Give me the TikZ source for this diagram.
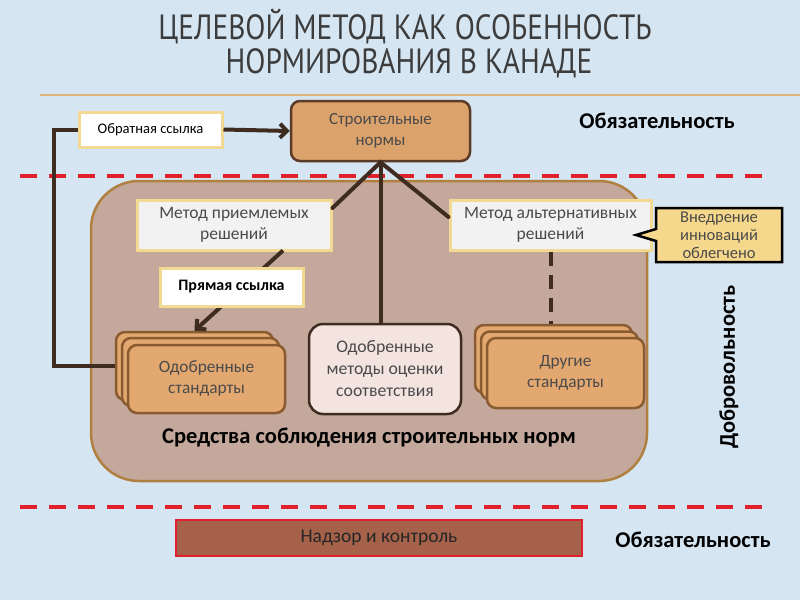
\documentclass[tikz,border=0pt]{standalone}
\usepackage{fontspec}
\setmainfont{Carlito}
\newfontfamily\titlefont{PT Sans}
\usetikzlibrary{arrows.meta,shapes.callouts,calc}
\definecolor{bg}{HTML}{D5E5F2}
\definecolor{tan}{HTML}{DBA26C}
\definecolor{tanline}{HTML}{5C3A28}
\definecolor{panel}{HTML}{C4A89C}
\definecolor{panelline}{HTML}{B08040}
\definecolor{yelline}{HTML}{F3DA94}
\definecolor{stdfill}{HTML}{E2A870}
\definecolor{stdline}{HTML}{8A5A30}
\definecolor{pinkfill}{HTML}{F3E4E0}
\definecolor{conn}{HTML}{3F2C20}
\definecolor{callfill}{HTML}{F6D88C}
\definecolor{redd}{HTML}{E0202A}
\definecolor{nadzor}{HTML}{A5614A}
\definecolor{txt}{HTML}{4A4A4A}
\definecolor{titlec}{HTML}{3C3C3C}
\definecolor{rule}{HTML}{DDB77A}
\begin{document}
\begin{tikzpicture}[x=1pt,y=-1pt,
  conline/.style={draw=conn,line width=4pt},
  reddash/.style={draw=redd,line width=4pt,dash pattern=on 17pt off 12pt},
  sbox/.style={draw=yelline,line width=3pt,fill=white,inner sep=0pt,align=center,text=black},
  mbox/.style={draw=yelline,line width=3pt,fill=black!5,inner sep=0pt,align=center,text=txt,font=\fontsize{17.5}{21}\selectfont},
  stdbox/.style={draw=stdline,line width=2.5pt,fill=stdfill,rounded corners=9pt,minimum width=157pt,minimum height=68pt,inner sep=0pt,align=center,text=txt,font=\fontsize{17.3}{21}\selectfont},
  lbl/.style={font=\bfseries\fontsize{22.5}{26}\selectfont,text=black,inner sep=0pt},
  ttl/.style={text=titlec,inner sep=0pt,anchor=base}
]
\useasboundingbox (0,0) rectangle (800,600);
\fill[bg] (0,0) rectangle (800,600);
% title
\node[ttl] (t1) at (405,39) {\scalebox{0.84}[1]{\titlefont\fontsize{35}{35}\selectfont ЦЕЛЕВОЙ МЕТОД КАК ОСОБЕННОСТЬ}};
\node[ttl] (t2) at (409,73) {\scalebox{0.84}[1]{\titlefont\fontsize{35}{35}\selectfont НОРМИРОВАНИЯ В КАНАДЕ}};
\draw[rule,line width=1.5pt] (40,95) -- (800,95);
% red dashed separators
\draw[reddash] (20,176) -- (772,176);
\draw[reddash] (20,507) -- (772,507);
% panel
\draw[panelline,line width=2.5pt,fill=panel,rounded corners=48pt] (91,181) rectangle (647,481);
% top node
\node[draw=tanline,line width=2.5pt,fill=tan,rounded corners=9pt,minimum width=179pt,minimum height=60pt,inner sep=0pt,align=center,text=txt,font=\fontsize{17}{21}\selectfont] (sn) at (380.5,131) {Строительные\\нормы};
\node[sbox,minimum width=143pt,minimum height=35pt,font=\fontsize{14.6}{17}\selectfont] (obr) at (150.5,129.5) {Обратная ссылка};
% method boxes
\node[mbox,minimum width=194pt,minimum height=50pt] (mpr) at (234,225) {Метод приемлемых\\решений};
\node[mbox,minimum width=201pt,minimum height=50pt] (mal) at (550.5,225) {Метод альтернативных\\решений};
% standards stacks
\node[stdbox] (osA) at (194.5,366) {};
\node[stdbox] (osB) at (200.5,372) {};
\node[stdbox] (os) at (206.5,379) {Одобренные\\стандарты};
\node[stdbox] (odA) at (553.5,359) {};
\node[stdbox] (odB) at (559.5,365.5) {};
\node[stdbox,minimum height=70pt] (od) at (565.5,373) {Другие\\стандарты};
\node[draw=conn,line width=2.5pt,fill=pinkfill,rounded corners=14pt,minimum width=152pt,minimum height=90pt,inner sep=0pt,align=center,text=txt,font=\fontsize{17.7}{22}\selectfont] (mo) at (385,369) {Одобренные\\методы оценки\\соответствия};
% connectors
\draw[conline,-{Straight Barb[length=7pt,width=14pt]}] (obr.east) -- (sn.west);
\draw[conline] (obr.west) -- ++(-24,0) |- (osA.west);
\draw[conline,line cap=round] ([yshift=17pt]mpr.east) -- (sn.south) -- ([yshift=8pt]mal.west);
\draw[conline] (sn.south) -- (sn.south |- mo.north);
\draw[conline,-{Straight Barb[length=7pt,width=14pt]}] ([xshift=49pt,yshift=1pt]mpr.south) -- (osA.north);
\draw[conline,dash pattern=on 14pt off 9pt] (mal.south) -- (mal.south |- odA.north);
\node[sbox,minimum width=143pt,minimum height=38pt,font=\bfseries\fontsize{16}{18}\selectfont] (pr) at (231.5,287) {Прямая ссылка};
% callout
\node[rectangle callout,draw=black,line width=2.5pt,fill=callfill,minimum width=126pt,minimum height=54pt,inner sep=0pt,align=center,text=txt,font=\fontsize{16.5}{18}\selectfont,callout absolute pointer={(636,235)},callout pointer width=12pt] (vn) at (719,235) {Внедрение\\инноваций\\облегчено};
% labels
\node[lbl] (ob1) at (657,121) {Обязательность};
\node[lbl,rotate=90] (dob) at (729,367) {Добровольность};
\node[lbl] (sr) at (369,438) {Средства соблюдения строительных норм};
% bottom
\node[draw=redd,line width=2.5pt,fill=nadzor,minimum width=406pt,minimum height=36pt,inner sep=0pt,text=black!85,font=\fontsize{19.5}{22}\selectfont] (nk) at (379,538) {Надзор и контроль};
\node[lbl] (ob2) at (693,540) {Обязательность};
\end{tikzpicture}
\end{document}
